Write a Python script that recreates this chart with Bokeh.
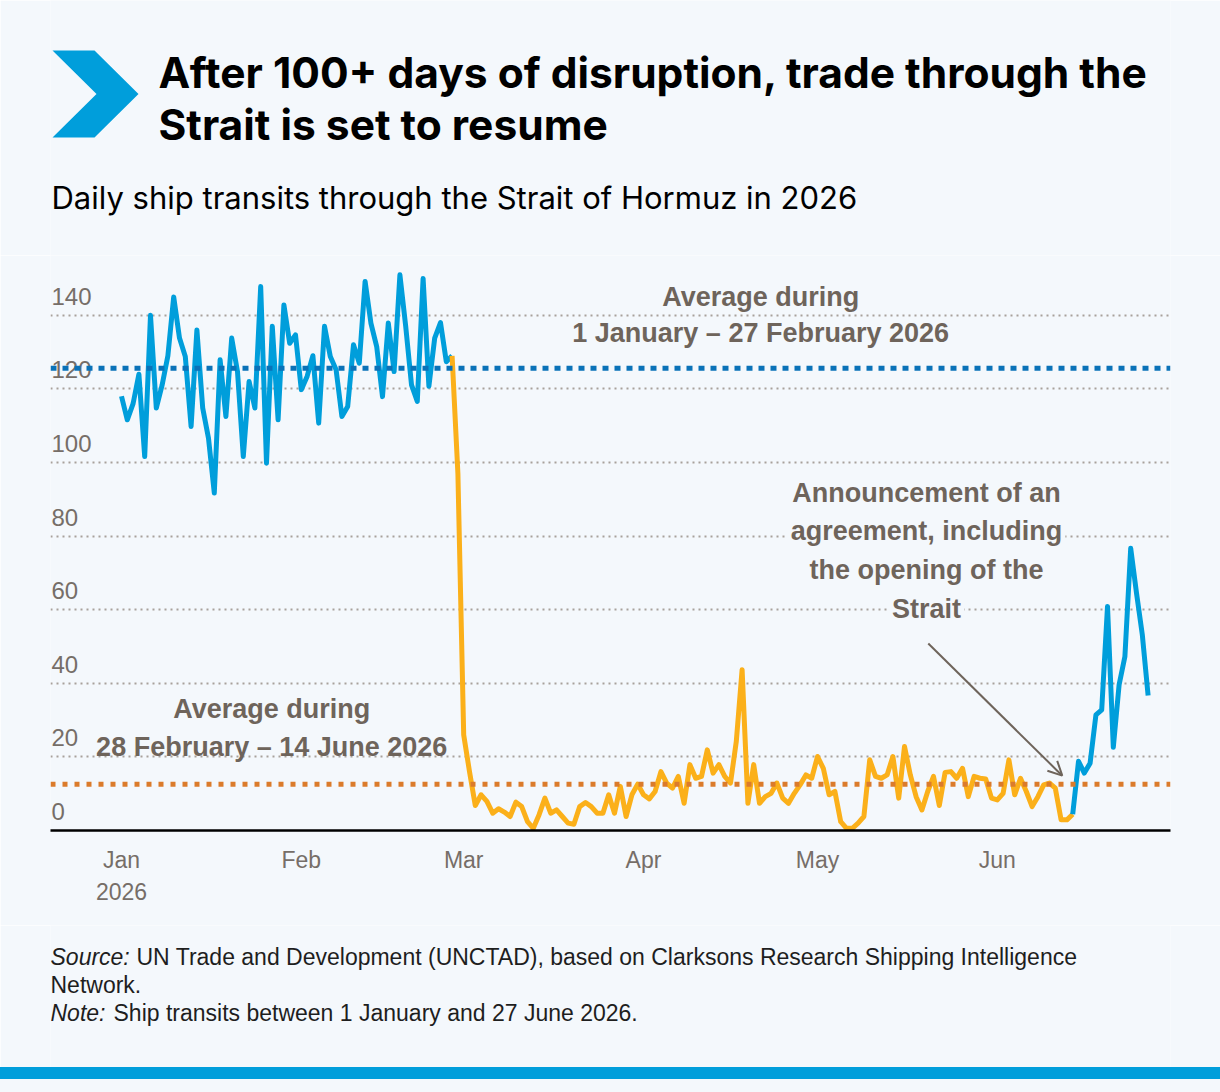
import pandas as pd
from bokeh.plotting import figure
from bokeh.models import Range1d, FixedTicker, Grid, Span, Arrow, OpenHead, LinearAxis, Div
from bokeh.layouts import column
from bokeh.core.properties import value
from bokeh.embed import file_html
from bokeh.resources import INLINE

# ---------------- data ----------------
YEAR_START = pd.Timestamp("2026-01-01")

# Daily ship transits, 1 Jan - 27 Feb 2026 (pre-disruption)
blue_before_start = "2026-01-01"
blue_before = [118, 111.6, 116, 124, 101.6, 140, 114.8, 121, 129, 145,
               133.8, 128.8, 109.8, 136, 114.8, 106.6, 91.7, 127.9, 112.5, 133.8,
               124.7, 101.6, 122, 114.8, 147.8, 99.8, 137, 111.6, 142.8, 132.4,
               134.7, 119.8, 123.4, 129, 110.7, 137, 128.8, 125.2, 112.5, 115.2,
               132, 127, 149.2, 137.9, 131.5, 117.9, 137.9, 124.7, 151, 137,
               121.1, 116.6, 150, 120.7, 133.8, 138, 127.4, 129]

# 28 Feb - 14 Jun 2026 (disruption)
orange_start = "2026-02-28"
orange_feb = [97]
orange_mar = [26, 16, 6.8, 9.7, 7.9, 4.7, 5.9, 5, 3.8, 7.7, 6.5, 2.4, 0.6, 4.3, 8.8, 4.7,
              5.6, 3.8, 2, 1.7, 6.5, 7.6, 6.5, 4.7, 4.7, 9.7, 4.7, 12, 3.8, 9.7, 12.6]
orange_apr = [9.7, 8.6, 10.6, 16, 12.9, 11.5, 14.7, 7.4, 17.9, 14.2, 14.7, 21.9, 15.6, 17.9, 14.7,
              12.9, 24.2, 43.7, 7.4, 17.9, 7.4, 9.2, 10.1, 12.9, 8.8, 7.4, 10.1, 12.4, 15.1, 14.2]
orange_may = [20.1, 16.9, 9.7, 10.6, 2.4, 0.6, 0.6, 2, 3.8, 19.2, 14.7, 14.2, 15.1, 20.1, 8.8, 22.8,
              15.1, 9.2, 5.6, 10.6, 14.7, 6.8, 15.8, 16, 14.2, 16.9, 9.2, 14.7, 14.2, 14, 8.8]
orange_jun = [8.3, 10.1, 19.2, 9.7, 14.2, 10.6, 6.5, 9.2, 12.4, 12.9, 11.5, 2.9, 2.9, 4.4]
orange_vals = orange_feb + orange_mar + orange_apr + orange_may + orange_jun

# 15 Jun - 27 Jun 2026 (after announcement)
blue_after_start = "2026-06-15"
blue_after = [18.8, 15.6, 18.3, 31.4, 32.8, 60.9, 22.6, 39.6, 47.3, 76.7, 64.5, 53.2, 36.7]

avg_before = 125.6   # average 1 Jan - 27 Feb
avg_during = 12.6    # average 28 Feb - 14 Jun

month_starts = ["2026-01-01", "2026-02-01", "2026-03-01", "2026-04-01", "2026-05-01", "2026-06-01"]
month_labels = ["Jan", "Feb", "Mar", "Apr", "May", "Jun"]
year_label = "2026"
y_ticks = [0, 20, 40, 60, 80, 100, 120, 140]

title_lines = ["After 100+ days of disruption, trade through the", "Strait is set to resume"]
subtitle = "Daily ship transits through the Strait of Hormuz in 2026"
ann_before = ["Average during", "1 January \u2013 27 February 2026"]
ann_during = ["Average during", "28 February \u2013 14 June 2026"]
ann_agree = ["Announcement of an", "agreement, including", "the opening of the", "Strait"]
source_lead = "Source:"
source_text = "UN Trade and Development (UNCTAD), based on Clarksons Research Shipping Intelligence"
source_cont = "Network."
note_lead = "Note:"
note_text = "Ship transits between 1 January and 27 June 2026."


def days(start, n):
    return list((pd.date_range(start, periods=n, freq="D") - YEAR_START).days)


bx = days(blue_before_start, len(blue_before))
ox = days(orange_start, len(orange_vals))
ax_ = days(blue_after_start, len(blue_after))
tick_days = [(pd.Timestamp(m) - YEAR_START).days for m in month_starts]

# ---------------- style ----------------
BG = "#F4F8FC"
BLUE = "#009EDB"
BLUE_AVG = "#0A72B8"
ORANGE = "#FBB01A"
ORANGE_AVG = "#DB7B2B"
ANN = "#6E645B"
TICK = "#766E68"
GRID = "#A8A19B"
FONT = "Liberation Sans"
HFONT = "Inter"

PX_PER_UNIT = 3.68             # vertical scale of the main chart (pixels per transit)
LABEL_LIFT = 19 / PX_PER_UNIT  # y tick labels sit above their grid line


def page_fig(height, y_top):
    f = figure(width=1220, height=height, x_range=Range1d(50, 1170),
               y_range=Range1d(y_top + height, y_top),
               output_backend="svg", toolbar_location=None,
               min_border_left=50, min_border_right=50, min_border_top=0, min_border_bottom=0,
               x_axis_location=None, y_axis_location=None,
               background_fill_color=BG, border_fill_color=BG, outline_line_color=None)
    f.grid.visible = False
    return f


# ---------------- header ----------------
hdr = page_fig(255, 0)
chev_x = [52, 94, 138, 94, 52, 96]
chev_y = [50, 50, 93.5, 137, 137, 93.5]
hdr.patch(chev_x, chev_y, color=BLUE, line_color=None)
hdr.text(x=[158, 158], y=[72, 124], text=title_lines, text_font=value(HFONT),
         text_font_size="42.5px", text_font_style="bold", text_color="#000000",
         text_baseline="middle", text_align="left")
hdr.text(x=[51], y=[197], text=[subtitle], text_font=value(HFONT),
         text_font_size="31px", text_color="#000000",
         text_baseline="middle", text_align="left")

# ---------------- main chart ----------------
X0, X1 = -12.24, 180.86
p = figure(width=1220, height=670, x_range=Range1d(X0, X1), y_range=Range1d(0, 156.25),
           output_backend="svg", toolbar_location=None,
           min_border_left=50, min_border_right=50, min_border_top=0, min_border_bottom=95,
           y_axis_location=None,
           background_fill_color=BG, border_fill_color=BG, outline_line_color=None)
p.xgrid.visible = False
p.ygrid.visible = False
p.add_layout(Grid(dimension=1, ticker=FixedTicker(ticks=y_ticks[1:]),
                  grid_line_color=GRID, grid_line_width=2, grid_line_dash="2 4"))

xa = p.xaxis[0]
xa.ticker = FixedTicker(ticks=tick_days)
xa.major_label_overrides = {d: lab for d, lab in zip(tick_days, month_labels)}
xa.axis_line_color = "#000000"
xa.axis_line_width = 2.5
xa.major_tick_line_color = None
xa.minor_tick_line_color = None
xa.major_label_standoff = 10
xa.major_label_text_font = FONT
xa.major_label_text_font_size = "23px"
xa.major_label_text_color = TICK

ax2 = LinearAxis(ticker=FixedTicker(ticks=[tick_days[0]]),
                 major_label_overrides={tick_days[0]: year_label},
                 axis_line_color=None, major_tick_line_color=None, minor_tick_line_color=None,
                 major_label_standoff=1, major_label_text_font=FONT,
                 major_label_text_font_size="23px", major_label_text_color=TICK)
p.add_layout(ax2, "below")

# y tick labels above the grid lines
p.text(x=[X0] * len(y_ticks), y=[t + LABEL_LIFT for t in y_ticks], text=[str(t) for t in y_ticks],
       text_font=value(FONT), text_font_size="24px", text_color=TICK,
       text_baseline="middle", text_align="left", x_offset=1)

# series
p.line(bx, blue_before, line_color=BLUE, line_width=5, line_join="round")
p.line([bx[-1]] + ox, [blue_before[-1]] + orange_vals, line_color=ORANGE, line_width=5,
       line_join="round")
p.line([ox[-1]] + ax_, [orange_vals[-1]] + blue_after, line_color=BLUE, line_width=5,
       line_join="round")

p.add_layout(Span(location=avg_before, dimension="width", line_color=BLUE_AVG,
                  line_width=5, line_dash="6 6"))
p.add_layout(Span(location=avg_during, dimension="width", line_color=ORANGE_AVG,
                  line_width=5, line_dash="5 7"))

# annotations
p.text(x=[110.2, 110.2], y=[145.1, 135.1], text=ann_before, text_font=value(FONT),
       text_font_size="27px", text_font_style="bold", text_color=ANN,
       text_align="center", text_baseline="middle")
p.text(x=[25.9, 25.9], y=[32.9, 22.6], text=ann_during, text_font=value(FONT),
       text_font_size="27px", text_font_style="bold", text_color=ANN,
       text_align="center", text_baseline="middle")
p.text(x=[138.8] * 4, y=[91.6, 81.3, 70.7, 60.1], text=ann_agree, text_font=value(FONT),
       text_font_size="27px", text_font_style="bold", text_color=ANN,
       text_align="center", text_baseline="middle",
       background_fill_color=BG, padding=3)
p.add_layout(Arrow(end=OpenHead(size=14, line_color=ANN, line_width=2),
                   x_start=139.1, y_start=50.8, x_end=162.2, y_end=14.9,
                   line_color=ANN, line_width=2))

# ---------------- footer ----------------
ftr = page_fig(142, 925)
FT = dict(text_font=value(FONT), text_font_size="23px", text_color="#1E1E1E",
          text_baseline="middle", text_align="left")
ftr.text(x=[50], y=[956], text=[source_lead], text_font_style="italic", **FT)
ftr.text(x=[136], y=[956], text=[source_text], **FT)
ftr.text(x=[50], y=[984], text=[source_cont], **FT)
ftr.text(x=[50], y=[1012], text=[note_lead], text_font_style="italic", **FT)
ftr.text(x=[113], y=[1012], text=[note_text], **FT)

DIV_STYLE = {"margin": "0", "padding": "0", "line-height": "0", "font-size": "0",
             "overflow": "hidden"}
bar = Div(text="", width=1220, height=12, margin=0,
          styles=dict(DIV_STYLE, **{"background-color": BLUE}))
pad = Div(text="", width=1220, height=13, margin=0,
          styles=dict(DIV_STYLE, **{"background-color": BG}))

layout = column(hdr, p, ftr, bar, pad, spacing=0)
open("out.html", "w").write(file_html(layout, INLINE))
